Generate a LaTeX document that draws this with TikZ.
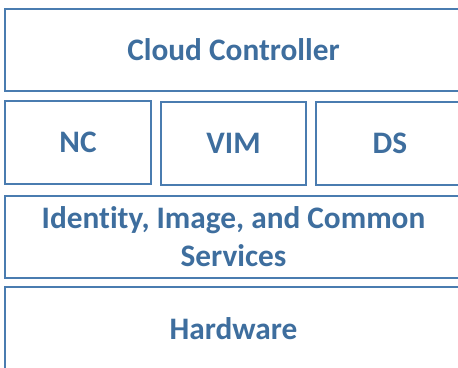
\documentclass[tikz,border=0pt]{standalone}
\usepackage{fontspec}
\setmainfont{Carlito}[Ligatures=NoCommon]
\usepackage{tikz}

\definecolor{layertext}{HTML}{3E6E9E}
\definecolor{layerline}{HTML}{4A7CB0}

\begin{document}
\begin{tikzpicture}[x=1pt, y=-1pt,
    every node/.style={font=\fontsize{31.3}{38}\selectfont\bfseries, text=layertext},
    layer/.style={draw=layerline, line width=1.4pt, rectangle, inner sep=0pt, align=center}]
			\useasboundingbox (0,0) rectangle (458,367);
			\clip (0,0) rectangle (458,367);

			% Layers
			\node[layer, minimum width=457pt, minimum height=82pt] (cloud) at (233.5,50) {Cloud Controller};
			\node[layer, minimum width=146pt, minimum height=83pt] (nc) at (78,142.5) {NC};
			\node[layer, minimum width=145pt, minimum height=83pt] (vim) at (233.5,143.5) {VIM};
			\node[layer, minimum width=148pt, minimum height=83pt] (ds) at (390,143.5) {DS};
			\node[layer, minimum width=457pt, minimum height=82pt] (ident) at (233.5,237) {Identity, Image, and Common\\Services};
			\node[layer, minimum width=457pt, minimum height=83pt] (hw) at (233.5,328.5) {Hardware};
		\end{tikzpicture}
\end{document}
